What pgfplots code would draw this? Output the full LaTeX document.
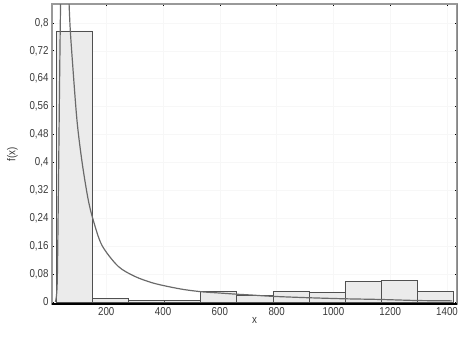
\documentclass[border=0pt]{standalone}
\usepackage{fontspec}
\setmainfont{Liberation Sans}
\newfontfamily\tickfont[FakeStretch=0.85]{Liberation Sans}
\usepackage{pgfplots}
\pgfplotsset{compat=1.18}
\definecolor{barfill}{HTML}{EBEBEB}
\definecolor{baredge}{HTML}{505050}
\definecolor{curve}{HTML}{6A6A6A}
\definecolor{txt}{HTML}{3A3A3A}
\begin{document}
\begin{tikzpicture}
\begin{axis}[
  scale only axis, width=405bp, height=300bp,
  xmin=9, xmax=1435, ymin=-0.006, ymax=0.854,
  xtick={200,400,600,800,1000,1200,1400},
  ytick={0,0.08,0.16,0.24,0.32,0.4,0.48,0.56,0.64,0.72,0.8},
  yticklabels={0,{0,08},{0,16},{0,24},{0,32},{0,4},{0,48},{0,56},{0,64},{0,72},{0,8}},
  /pgf/number format/assume math mode=true,
  /pgf/number format/1000 sep={},
  tick label style={font=\tickfont\fontsize{11.5}{12}\selectfont, text=txt},
  label style={font=\tickfont\fontsize{11.5}{12}\selectfont, text=txt},
  xlabel={x}, ylabel={f(x)},
  xlabel style={yshift=5bp},
  ylabel style={yshift=5bp},
  grid=major, major grid style={draw=black!3, line width=0.4pt},
  axis line style={draw=gray!80, line width=1.2pt},
  tick style={draw=black, line width=0.6pt},
  major tick length=2bp, tick align=inside,
  clip=true,
]
\addplot[ybar interval, fill=barfill, draw=baredge, line width=0.6pt] coordinates {
 (24.6,0.777) (151.6,0.009) (278.6,0.004) (405.6,0.004) (532.6,0.030) (659.6,0.018)
 (786.6,0.030) (913.6,0.027) (1040.6,0.058) (1167.6,0.062) (1294.6,0.030) (1421.6,0.030)
};
\addplot[curve, line width=1.2pt, smooth, tension=0.5] coordinates {
 (21,0) (25,0.02) (28,0.08) (32,0.35) (36,0.65) (40,0.90) (46,1.15) (53,1.25) (60,1.12)
 (66,0.93) (72,0.80) (80,0.70) (97,0.52) (115,0.40) (136,0.295) (154,0.235) (185,0.162)
 (242,0.102) (301,0.073) (361,0.055) (418,0.044) (477,0.035) (537,0.029) (590,0.026)
 (661,0.022) (706,0.020) (784,0.016) (911,0.012) (1037,0.009) (1164,0.007) (1294,0.004) (1418,0.003)
};
\draw[black, line width=1.6pt] (rel axis cs:0,0) -- (rel axis cs:1,0);
\draw[black, line width=1.0pt] (rel axis cs:1,0) -- (rel axis cs:1,1);
\end{axis}
\pgfresetboundingbox
\path ([shift={(-52bp,-33bp)}]current axis.south west) rectangle ([shift={(7bp,4bp)}]current axis.north east);
\end{tikzpicture}
\end{document}
